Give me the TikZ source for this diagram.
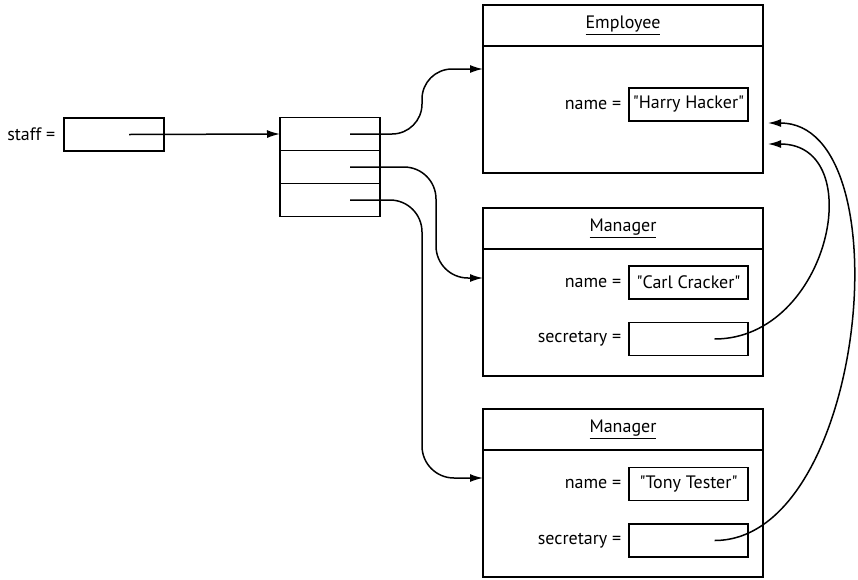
\documentclass[tikz,border=0pt]{standalone}
\usepackage{fontspec}
\setmainfont{PT Sans}
\usetikzlibrary{arrows.meta,positioning}
\tikzset{>={Latex[length=13pt,width=8pt]}}
\tikzset{
  field/.style = {draw,line width=1.8pt,minimum width=119pt,minimum height=33pt,inner sep=0pt,outer sep=0pt},
  cell/.style = {draw,line width=1.8pt,minimum width=100pt,minimum height=33pt,inner sep=0pt,outer sep=0pt},
  title/.style = {draw,line width=1.8pt,minimum width=280pt,minimum height=41pt,inner sep=0pt,outer sep=0pt},
  body/.style = {draw,line width=1.8pt,minimum width=280pt,minimum height=127pt,inner sep=0pt,outer sep=0pt},
  lbl/.style = {anchor=east,inner sep=0pt},
  ptr/.style = {->,rounded corners=32pt}
}
\newcommand{\qt}[1]{\textquotedbl#1\textquotedbl}

\begin{document}
\begin{tikzpicture}[x=1pt,y=-1pt,line width=1.5pt,font=\fontsize{18}{21}\selectfont]
  \useasboundingbox (0,0) rectangle (858,579);
  % staff variable
  \node[field,minimum width=100pt] (staffbox) at (114,134.5) {};
  \node[lbl,left=8pt of staffbox] (staff) {staff =};
  % array list
  \node[cell] (a1) at (330,134) {};
  \node[cell,below=0pt of a1] (a2) {};
  \node[cell,below=0pt of a2] (a3) {};
  % employee object
  \node[title] (emptitle) at (623,25.5) {\underline{Employee}};
  \node[body,below=0pt of emptitle] (empbody) {};
  \node[field] (empname) at (688.5,104.5) {\qt{Harry Hacker}};
  \node[lbl,left=7pt of empname] (empnamelbl) {name =};
  % first manager
  \node[title] (m1title) at (623,228.5) {\underline{Manager}};
  \node[body,below=0pt of m1title] (m1body) {};
  \node[field] (m1name) at (688.5,282.5) {\qt{Carl Cracker}};
  \node[lbl,left=7pt of m1name] (m1namelbl) {name =};
  \node[field] (m1sec) at (688.5,339) {};
  \node[lbl,left=7pt of m1sec] (m1seclbl) {secretary =};
  % second manager
  \node[title] (m2title) at (623,429.5) {\underline{Manager}};
  \node[body,below=0pt of m2title] (m2body) {};
  \node[field] (m2name) at (688.5,484) {\qt{Tony Tester}};
  \node[lbl,left=7pt of m2name] (m2namelbl) {name =};
  \node[field] (m2sec) at (688.5,540.5) {};
  \node[lbl,left=7pt of m2sec] (m2seclbl) {secretary =};

  % pointers
  \coordinate (s0) at ([xshift=15pt]staffbox.center);
  \coordinate (p1) at ([xshift=20pt]a1.center);
  \coordinate (p2) at ([xshift=20pt]a2.center);
  \coordinate (p3) at ([xshift=20pt]a3.center);
  \coordinate (t1) at ([yshift=-23pt]empbody.north west);
  \coordinate (t2) at ([yshift=-29pt]m1body.north west);
  \coordinate (t3) at ([yshift=-28pt]m2body.north west);
  \coordinate (q1) at ([xshift=26pt]m1sec.center);
  \coordinate (q2) at ([xshift=26pt]m2sec.center);
  \coordinate (e1) at ([xshift=5pt,yshift=29pt]empbody.south east);
  \coordinate (e2) at ([xshift=5pt,yshift=50pt]empbody.south east);

  \draw[->] (s0) -- (a1.west);
  \draw[ptr,rounded corners=30pt] (p1) -- ([xshift=-61pt]t1 |- p1) -- ([xshift=-61pt]t1) -- (t1);
  \draw[ptr] (p2) -- ([xshift=-47pt]t2 |- p2) -- ([xshift=-47pt]t2) -- (t2);
  \draw[ptr] (p3) -- ([xshift=-61pt]t3 |- p3) -- ([xshift=-61pt]t3) -- (t3);
  \draw[->] (q1) .. controls +(115,0) and +(102,0) .. (e1);
  \draw[->] (q2) .. controls +(152,0) and +(137,0) .. (e2);
\end{tikzpicture}
\end{document}
